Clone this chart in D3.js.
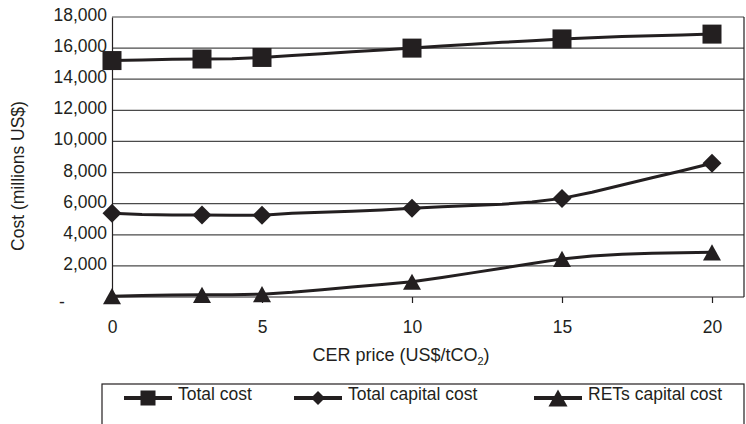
<!DOCTYPE html>
<html>
<head>
<meta charset="utf-8">
<script src="https://cdn.jsdelivr.net/npm/d3@7"></script>
<style>
  body { margin: 0; background: #fff; }
  text { font-family: "Liberation Sans", Arial, Helvetica, sans-serif; fill: #231f20; }
</style>
</head>
<body>
<svg id="chart" width="746" height="424"></svg>
<script>
// CER price steps (US$/tCO2) used by the curves, and the prices carrying a marker
const cerPrices = d3.range(0, 21);
const markerPrices = [0, 3, 5, 10, 15, 20];

// Costs in millions US$ at each CER price 0..20
const totalCost = [15200, 15230, 15280, 15300, 15310, 15400, 15520, 15640, 15760, 15880, 16000,
                   16130, 16250, 16370, 16480, 16590, 16670, 16740, 16800, 16850, 16900];
const totalCapitalCost = [5380, 5300, 5270, 5270, 5260, 5250, 5380, 5450, 5520, 5600, 5700,
                          5800, 5880, 5960, 6100, 6340, 6730, 7200, 7670, 8120, 8600];
const retsCapitalCost = [50, 100, 130, 140, 150, 180, 300, 470, 640, 810, 980,
                         1250, 1550, 1850, 2150, 2450, 2640, 2750, 2810, 2840, 2870];

const seriesNames = ["Total cost", "Total capital cost", "RETs capital cost"];
const markerShapes = ["square", "diamond", "triangle"];
const yTicks = [0, 2000, 4000, 6000, 8000, 10000, 12000, 14000, 16000, 18000];
const xTicks = [0, 5, 10, 15, 20];

const ink = "#231f20";
const fontSize = 17.5;
const svg = d3.select("#chart");

const plot = { left: 112, right: 744, top: 17, bottom: 297 };
const x = d3.scaleLinear().domain([0, 20]).range([plot.left, 712]);
const y = d3.scaleLinear().domain([0, 18000]).range([plot.bottom, plot.top]);

const series = [totalCost, totalCapitalCost, retsCapitalCost].map((vals, i) => ({
  name: seriesNames[i],
  shape: markerShapes[i],
  points: cerPrices.map((p, j) => ({ p, v: vals[j] }))
}));

// horizontal gridlines
svg.append("g")
  .selectAll("line")
  .data(yTicks.filter(t => t > 0))
  .join("line")
  .attr("x1", plot.left).attr("x2", plot.right)
  .attr("y1", d => y(d)).attr("y2", d => y(d))
  .attr("stroke", "#4a4a4a").attr("stroke-width", 1.2);

// plot frame (right side)
svg.append("line")
  .attr("x1", plot.right).attr("x2", plot.right)
  .attr("y1", plot.top).attr("y2", plot.bottom)
  .attr("stroke", ink).attr("stroke-width", 1.2);

// y axis; zero is shown as an accounting-style dash
const yAxis = svg.append("g")
  .attr("transform", `translate(${plot.left},0)`)
  .call(d3.axisLeft(y).tickValues(yTicks).tickSize(0).tickPadding(5)
        .tickFormat(d => d === 0 ? "" : d3.format(",")(d)));
yAxis.select(".domain").attr("stroke", ink).attr("stroke-width", 1.2);
yAxis.selectAll("text").attr("font-size", fontSize).attr("font-family", null)
  .attr("fill", ink).attr("dy", "0.2em");
svg.append("text")
  .attr("x", 62).attr("y", y(0) + 11)
  .attr("text-anchor", "middle").attr("font-size", fontSize)
  .text("-");

// x axis
const xAxis = svg.append("g")
  .attr("transform", `translate(0,${plot.bottom})`)
  .call(d3.axisBottom(x).tickValues(xTicks).tickSize(6).tickPadding(18));
xAxis.select(".domain").remove();
svg.append("line")
  .attr("x1", plot.left).attr("x2", plot.right)
  .attr("y1", plot.bottom).attr("y2", plot.bottom)
  .attr("stroke", ink).attr("stroke-width", 1.2);
xAxis.selectAll("line").attr("stroke", ink).attr("stroke-width", 1.2);
xAxis.selectAll("text").attr("font-size", fontSize).attr("font-family", null).attr("fill", ink);

// axis titles
svg.append("text")
  .attr("transform", `translate(24,176) rotate(-90)`)
  .attr("text-anchor", "middle").attr("font-size", fontSize)
  .text("Cost (millions US$)");

const xTitle = svg.append("text")
  .attr("x", 401).attr("y", 361)
  .attr("text-anchor", "middle").attr("font-size", 18);
xTitle.append("tspan").text("CER price (US$/tCO");
xTitle.append("tspan").attr("font-size", 11).attr("dy", 4).text("2");
xTitle.append("tspan").attr("dy", -4).text(")");

// marker shapes
function drawMarker(sel, shape, size) {
  if (shape === "square") {
    sel.append("rect").attr("x", -size / 2).attr("y", -size / 2)
      .attr("width", size).attr("height", size).attr("fill", ink);
  } else if (shape === "diamond") {
    const h = size / 2;
    sel.append("path").attr("d", `M0,${-h}L${h},0L0,${h}L${-h},0Z`).attr("fill", ink);
  } else {
    const w = size / 2, h = size * 0.45;
    sel.append("path").attr("d", `M0,${-h}L${w},${h}L${-w},${h}Z`).attr("fill", ink);
  }
}
const markerSize = { square: 19, diamond: 19, triangle: 18 };

// series lines and markers
const line = d3.line().x(d => x(d.p)).y(d => y(d.v));
series.forEach(s => {
  svg.append("path")
    .datum(s.points)
    .attr("d", line)
    .attr("fill", "none").attr("stroke", ink)
    .attr("stroke-width", 3).attr("stroke-linejoin", "round");
  svg.append("g")
    .selectAll("g")
    .data(s.points.filter(d => markerPrices.includes(d.p)))
    .join("g")
    .attr("transform", d => `translate(${x(d.p)},${y(d.v)})`)
    .each(function () { drawMarker(d3.select(this), s.shape, markerSize[s.shape]); });
});

// legend
const legend = svg.append("g");
legend.append("rect")
  .attr("x", 102).attr("y", 384).attr("width", 642).attr("height", 60)
  .attr("fill", "none").attr("stroke", ink).attr("stroke-width", 1.2);
const legendX = [124, 294, 534];
const legendMarker = { square: 15, diamond: 14, triangle: 19 };
series.forEach((s, i) => {
  const g = legend.append("g").attr("transform", `translate(${legendX[i]},398)`);
  g.append("line").attr("x1", 0).attr("x2", 48).attr("y1", 0).attr("y2", 0)
    .attr("stroke", ink).attr("stroke-width", 4);
  drawMarker(g.append("g").attr("transform", "translate(24,0)"), s.shape, legendMarker[s.shape]);
  g.append("text").attr("x", 54).attr("y", 0).attr("dy", "0.1em")
    .attr("font-size", fontSize).text(s.name);
});
</script>
</body>
</html>
